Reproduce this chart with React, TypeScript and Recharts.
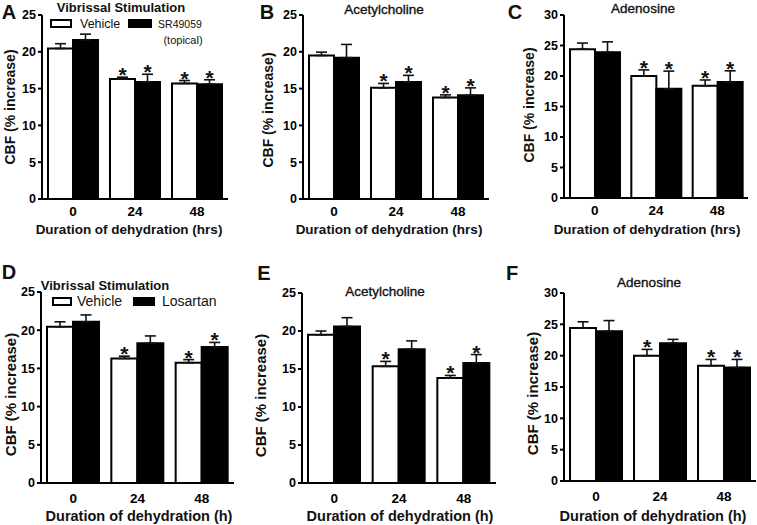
import React from "react";
import { Bar, BarChart, ErrorBar, LabelList, XAxis, YAxis } from "recharts";

const hours = ["0", "24", "48"];
const ticks25 = [0, 5, 10, 15, 20, 25];
const ticks30 = [0, 5, 10, 15, 20, 25, 30];

// A - vibrissal stimulation, vehicle vs SR49059
const aVehicle = [20.45, 16.3, 15.7];
const aVehicleSem = [0.65, 0.25, 0.4];
const aDrug = [21.6, 15.9, 15.6];
const aDrugSem = [0.8, 1.05, 0.6];

// B - acetylcholine
const bVehicle = [19.5, 15.1, 13.8];
const bVehicleSem = [0.45, 0.6, 0.35];
const bDrug = [19.2, 15.9, 14.1];
const bDrugSem = [1.8, 0.9, 1.0];

// C - adenosine
const cVehicle = [24.4, 20.0, 18.4];
const cVehicleSem = [1.0, 1.0, 0.95];
const cDrug = [23.9, 17.9, 19.0];
const cDrugSem = [1.7, 2.9, 1.85];

// D - vibrissal stimulation, vehicle vs losartan
const dVehicle = [20.45, 16.3, 15.75];
const dVehicleSem = [0.65, 0.3, 0.4];
const dDrug = [21.1, 18.3, 17.8];
const dDrugSem = [0.9, 0.95, 0.6];

// E - acetylcholine
const eVehicle = [19.5, 15.35, 13.8];
const eVehicleSem = [0.5, 0.65, 0.35];
const eDrug = [20.6, 17.6, 15.8];
const eDrugSem = [1.15, 1.1, 1.1];

// F - adenosine
const fVehicle = [24.4, 20.0, 18.4];
const fVehicleSem = [1.0, 1.0, 1.0];
const fDrug = [23.9, 22.0, 18.1];
const fDrugSem = [1.7, 0.6, 1.3];

// significance stars (1 = *)
const starsAll = [0, 1, 1];
const starsLate = [0, 0, 1];

const FONT = "'Liberation Sans', Arial, Helvetica, sans-serif";

type PanelProps = {
  plot: [number, number, number, number];
  yMax: number;
  ticks: number[];
  barSize: number;
  tickGap: number;
  veh: number[];
  vehSem: number[];
  drug: number[];
  drugSem: number[];
  vehStars: number[];
  drugStars: number[];
};

const YW = 40;
const TOP = 8;
const XH = 26;

function starContent(sem: number[], flags: number[]) {
  return (p: any) => {
    const { x, y, width, height, index, value } = p;
    if (index == null || !flags[index] || !value) return null;
    const per = Number(height) / Number(value);
    const top = Number(y) - sem[index] * per;
    return (
      <text
        x={Number(x) + Number(width) / 2}
        y={top + 5}
        textAnchor="middle"
        fontSize={21}
        fontWeight="bold"
        fontFamily={FONT}
        fill="#111"
      >
        *
      </text>
    );
  };
}

function Panel(props: PanelProps) {
  const { plot, yMax, ticks, barSize, tickGap, veh, vehSem, drug, drugSem, vehStars, drugStars } = props;
  const [x0, y0, x1, y1] = plot;
  const left = x0 - YW;
  const top = y0 - TOP;
  const width = x1 - x0 + YW + 3;
  const height = y1 - y0 + TOP + XH;
  const rows = hours.map((h, i) => ({
    hour: h,
    veh: veh[i],
    drug: drug[i],
    vehErr: [0, vehSem[i]],
    drugErr: [0, drugSem[i]],
  }));
  return (
    <div style={{ position: "absolute", left, top }}>
      <BarChart
        width={width}
        height={height}
        data={rows}
        margin={{ top: TOP, right: 3, left: 0, bottom: 0 }}
        barGap={0}
        barSize={barSize}
      >
        <XAxis
          dataKey="hour"
          height={XH}
          tickLine={false}
          tickSize={0}
          tickMargin={tickGap}
          axisLine={{ stroke: "#000", strokeWidth: 2 }}
          tick={{ fill: "#000", fontSize: 13.5, fontWeight: "bold", fontFamily: FONT }}
        />
        <YAxis
          width={YW}
          domain={[0, yMax]}
          ticks={ticks}
          interval={0}
          tickSize={4}
          tickMargin={2}
          axisLine={{ stroke: "#000", strokeWidth: 2 }}
          tickLine={{ stroke: "#000", strokeWidth: 2 }}
          tick={{ fill: "#000", fontSize: 12.5, fontWeight: "bold", fontFamily: FONT }}
        />
        <Bar dataKey="veh" fill="#fff" stroke="#000" strokeWidth={2} isAnimationActive={false}>
          <ErrorBar dataKey="vehErr" width={5.5} stroke="#111" strokeWidth={1.6} direction="y" />
          <LabelList dataKey="veh" content={starContent(vehSem, vehStars)} />
        </Bar>
        <Bar dataKey="drug" fill="#000" stroke="#000" strokeWidth={2} isAnimationActive={false}>
          <ErrorBar dataKey="drugErr" width={5.5} stroke="#111" strokeWidth={1.6} direction="y" />
          <LabelList dataKey="drug" content={starContent(drugSem, drugStars)} />
        </Bar>
      </BarChart>
    </div>
  );
}

type TProps = {
  x: number;
  y: number;
  size: number;
  bold?: boolean;
  semi?: boolean;
  rotate?: boolean;
  align?: "center" | "left";
  children: React.ReactNode;
};

// x,y = centre of the text (or left edge when align="left")
function T({ x, y, size, bold, semi, rotate, align = "center", children }: TProps) {
  const boxW = 300;
  const left = align === "center" ? x - boxW / 2 : x;
  return (
    <div
      style={{
        position: "absolute",
        left,
        top: y - size / 2,
        width: boxW,
        height: size,
        textAlign: align,
        transform: rotate ? "rotate(-90deg)" : undefined,
        transformOrigin: `${x - left}px ${size / 2}px`,
        fontFamily: FONT,
        fontSize: size,
        fontWeight: bold ? "bold" : "normal",
        WebkitTextStroke: semi ? "0.35px #111" : undefined,
        color: "#111",
        whiteSpace: "nowrap",
        lineHeight: `${size}px`,
      }}
    >
      {children}
    </div>
  );
}

function Box({ x0, y0, x1, y1, fill }: { x0: number; y0: number; x1: number; y1: number; fill: string }) {
  return (
    <div
      style={{
        position: "absolute",
        left: x0,
        top: y0,
        width: x1 - x0,
        height: y1 - y0,
        background: fill,
        border: "2px solid #000",
        boxSizing: "border-box",
      }}
    />
  );
}

export default function App() {
  return (
    <div style={{ position: "absolute", left: 0, top: 0, width: 757, height: 525, background: "#fff", overflow: "hidden" }}>
      <Panel plot={[42, 15, 228, 199]} yMax={25} ticks={ticks25} barSize={25} tickGap={7}
        veh={aVehicle} vehSem={aVehicleSem} drug={aDrug} drugSem={aDrugSem} vehStars={starsAll} drugStars={starsAll} />
      <Panel plot={[303, 15, 489, 199]} yMax={25} ticks={ticks25} barSize={25} tickGap={7}
        veh={bVehicle} vehSem={bVehicleSem} drug={bDrug} drugSem={bDrugSem} vehStars={starsAll} drugStars={starsAll} />
      <Panel plot={[564, 15, 748, 198]} yMax={30} ticks={ticks30} barSize={25} tickGap={7}
        veh={cVehicle} vehSem={cVehicleSem} drug={cDrug} drugSem={cDrugSem} vehStars={starsAll} drugStars={starsAll} />
      <Panel plot={[41, 292, 234, 483]} yMax={25} ticks={ticks25} barSize={26} tickGap={10}
        veh={dVehicle} vehSem={dVehicleSem} drug={dDrug} drugSem={dDrugSem} vehStars={starsAll} drugStars={starsLate} />
      <Panel plot={[302, 293, 496, 483]} yMax={25} ticks={ticks25} barSize={26} tickGap={10}
        veh={eVehicle} vehSem={eVehicleSem} drug={eDrug} drugSem={eDrugSem} vehStars={starsAll} drugStars={starsLate} />
      <Panel plot={[564, 293, 756, 481]} yMax={30} ticks={ticks30} barSize={26} tickGap={10}
        veh={fVehicle} vehSem={fVehicleSem} drug={fDrug} drugSem={fDrugSem} vehStars={starsAll} drugStars={starsLate} />

      {/* top row */}
      <T x={9} y={12} size={20} bold>A</T>
      <T x={121} y={7} size={13} bold>Vibrissal Stimulation</T>
      <Box x0={50} y0={19} x1={72} y1={28} fill="#fff" />
      <T x={80} y={24} size={12.5} align="left">Vehicle</T>
      <Box x0={128} y0={19} x1={152} y1={28} fill="#000" />
      <T x={180} y={24} size={10.5}>SR49059</T>
      <T x={183} y={40} size={11}>(topical)</T>
      <T x={129} y={230} size={13.5} bold>Duration of dehydration (hrs)</T>
      <T x={10} y={107} size={14} bold rotate>CBF (% increase)</T>

      <T x={267} y={12} size={20} bold>B</T>
      <T x={384} y={10} size={13.5} semi>Acetylcholine</T>
      <T x={389} y={230} size={13.5} bold>Duration of dehydration (hrs)</T>
      <T x={268} y={110} size={14} bold rotate>CBF (% increase)</T>

      <T x={515} y={12} size={20} bold>C</T>
      <T x={643} y={9} size={13.5} semi>Adenosine</T>
      <T x={647} y={230} size={13.5} bold>Duration of dehydration (hrs)</T>
      <T x={529} y={105} size={14} bold rotate>CBF (% increase)</T>

      {/* bottom row */}
      <T x={9} y={272} size={20} bold>D</T>
      <T x={105} y={285} size={13} bold>Vibrissal Stimulation</T>
      <Box x0={52} y0={297} x1={72} y1={306} fill="#fff" />
      <T x={77} y={301} size={14} align="left">Vehicle</T>
      <Box x0={133} y0={297} x1={155} y1={306} fill="#000" />
      <T x={162} y={301} size={14} align="left">Losartan</T>
      <T x={139} y={516} size={14.5} bold>Duration of dehydration (h)</T>
      <T x={10} y={394} size={15} bold rotate>CBF (% increase)</T>

      <T x={264} y={273} size={20} bold>E</T>
      <T x={385} y={292} size={13.5} semi>Acetylcholine</T>
      <T x={400} y={516} size={14.5} bold>Duration of dehydration (h)</T>
      <T x={260} y={395} size={15} bold rotate>CBF (% increase)</T>

      <T x={512} y={273} size={20} bold>F</T>
      <T x={649} y={283} size={13.5} semi>Adenosine</T>
      <T x={653} y={516} size={14.5} bold>Duration of dehydration (h)</T>
      <T x={532} y={393} size={15} bold rotate>CBF (% increase)</T>
    </div>
  );
}
